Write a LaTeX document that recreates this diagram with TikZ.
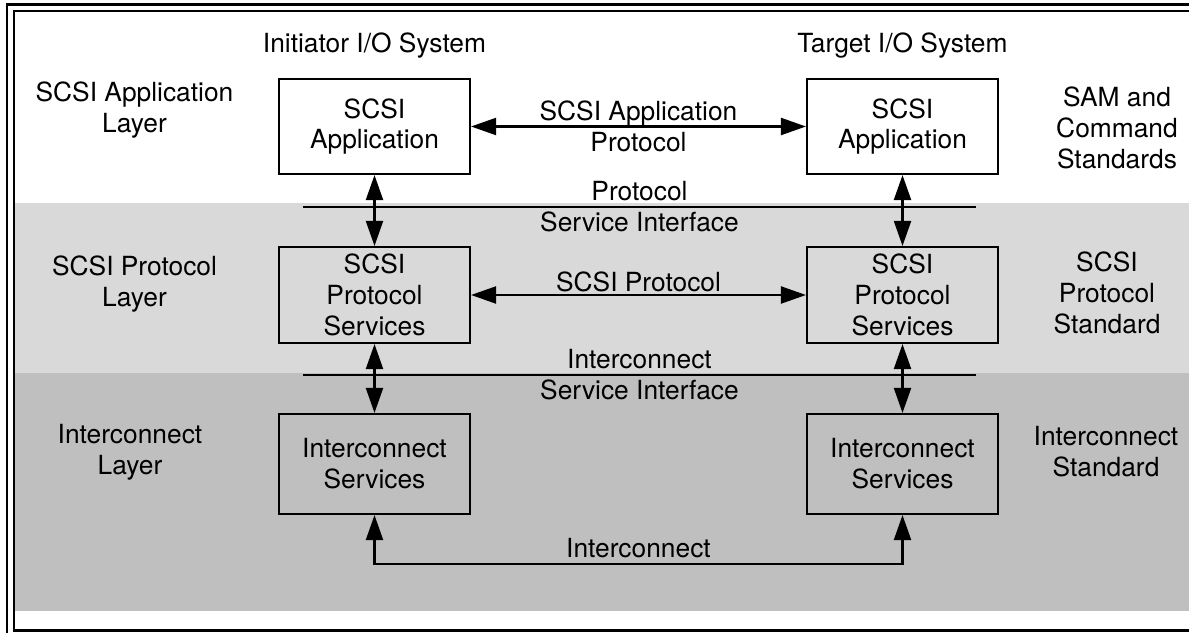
\documentclass[tikz,border=0pt]{standalone}
\usepackage{fontspec}
\setmainfont{TeX Gyre Heros}
\usetikzlibrary{arrows.meta,positioning}
\definecolor{protgray}{HTML}{D9D9D9}
\definecolor{intgray}{HTML}{BFBFBF}

\begin{document}
\begin{tikzpicture}[font=\fontsize{15}{17.6}\selectfont,
	layer/.style={draw,line width=1.2pt,minimum width=3.82cm,align=center,inner sep=0pt},
	link/.style={line width=1.2pt,{Triangle[length=0.5cm,width=0.34cm]}-{Triangle[length=0.5cm,width=0.34cm]}},
	txt/.style={align=center}]
	\useasboundingbox (0,0) rectangle (23.78,12.64);
	\fill[protgray] (0.30,5.18) rectangle (23.78,8.58);
	\fill[intgray] (0.30,0.42) rectangle (23.78,5.18);
	\draw[line width=1.2pt] (0.14,-0.2) -- (0.14,12.55) -- (23.9,12.55);
	\draw[line width=1.2pt] (23.9,0.03) -- (0.28,0.03) -- (0.28,12.42) -- (23.9,12.42);

	\node[txt] (iniSys) at (7.49,11.72) {Initiator I/O System};
	\node[txt] (tgtSys) at (18.05,11.72) {Target I/O System};
	\node[txt] (appLayer) at (2.69,10.44) {SCSI Application\\Layer};
	\node[txt] (protLayer) at (2.69,6.96) {SCSI Protocol\\Layer};
	\node[txt] (intLayer) at (2.60,3.60) {Interconnect\\Layer};
	\node[txt] (samStd) at (22.34,10.08) {SAM and\\Command\\Standards};
	\node[txt] (protStd) at (22.14,6.78) {SCSI\\Protocol\\Standard};
	\node[txt] (intStd) at (22.12,3.60) {Interconnect\\Standard};

	\node[layer,minimum height=1.9cm] (iniApp) at (7.49,10.11) {SCSI\\Application};
	\node[layer,minimum height=1.9cm] (tgtApp) at (18.05,10.11) {SCSI\\Application};
	\node[layer,minimum height=1.92cm] (iniProt) at (7.49,6.74) {SCSI\\Protocol\\Services};
	\node[layer,minimum height=1.92cm] (tgtProt) at (18.05,6.74) {SCSI\\Protocol\\Services};
	\node[layer,minimum height=2cm] (iniInt) at (7.49,3.36) {Interconnect\\Services};
	\node[layer,minimum height=2cm] (tgtInt) at (18.05,3.36) {Interconnect\\Services};

	\coordinate (psiL) at (6.06,8.50);
	\coordinate (psiR) at (19.52,8.50);
	\coordinate (isiL) at (6.06,5.14);
	\coordinate (isiR) at (19.52,5.14);
	\coordinate (bus) at (12.77,1.36);
	\draw[line width=1.2pt] (psiL) -- node[txt] {Protocol\\Service Interface} (psiR);
	\draw[line width=1.2pt] (isiL) -- node[txt] {Interconnect\\Service Interface} (isiR);

	\draw[link] (iniApp) -- node[txt] {SCSI Application\\Protocol} (tgtApp);
	\draw[link] (iniApp) -- (iniProt);
	\draw[link] (tgtApp) -- (tgtProt);
	\draw[link] (iniProt) -- node[above,inner sep=1pt] {SCSI Protocol} (tgtProt);
	\draw[link] (iniProt) -- (iniInt);
	\draw[link] (tgtProt) -- (tgtInt);
	\draw[link] (iniInt) |- (bus) -| (tgtInt);
	\node[above] (busLbl) at (bus) {Interconnect};
\end{tikzpicture}
\end{document}
